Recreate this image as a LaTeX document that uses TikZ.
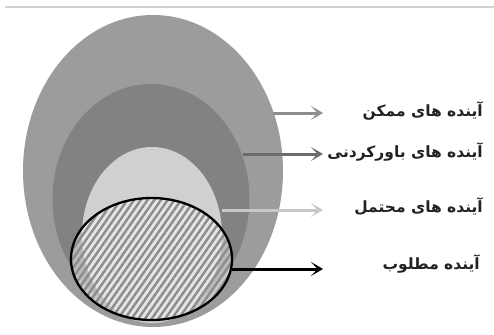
\documentclass[tikz,border=0pt]{standalone}
\usepackage{fontspec}
\newfontfamily\arabicfont[Script=Arabic]{DejaVu Sans}
\TeXXeTstate=1
\usetikzlibrary{shapes.geometric,arrows.meta,patterns.meta}
\definecolor{outerg}{HTML}{9C9C9C}
\definecolor{midg}{HTML}{828282}
\definecolor{lightg}{HTML}{D0D0D0}
\definecolor{stripeg}{HTML}{8C8C8C}
\definecolor{arrowone}{HTML}{8E8E8E}
\definecolor{arrowtwo}{HTML}{6C6C6C}
\definecolor{arrowthree}{HTML}{C8C8C8}
\definecolor{textg}{HTML}{222222}
\definecolor{ruleg}{HTML}{D2D2D2}
\begin{document}
\begin{tikzpicture}[x=1pt,y=-1pt,
  blob/.style={ellipse,inner sep=0pt,draw=none},
  lbl/.style={anchor=east,inner sep=0pt,font=\arabicfont\bfseries\fontsize{15.5}{18}\selectfont,text=textg},
  pointer/.style={line width=3pt,-{Stealth[length=12pt,width=14pt,inset=6.5pt]}}]
\useasboundingbox (0,0) rectangle (494,334);
\coordinate (r1) at (5,7);
\coordinate (r2) at (494,7);
\draw[ruleg,line width=1.2pt] (r1) -- (r2);
% ellipses
\node[blob,fill=outerg,minimum width=260pt,minimum height=312pt] (possible) at (153,171) {};
\node[blob,fill=midg,minimum width=197pt,minimum height=230pt] (plausible) at (151,199) {};
\node[blob,fill=lightg,minimum width=140pt,minimum height=176pt] (probable) at (152,235) {};
\node[blob,fill=white,fill opacity=0.45,minimum width=161pt,minimum height=122pt,
  postaction={fill opacity=0.65,pattern={Lines[angle=55,distance=5.5pt,line width=2.4pt]},pattern color=stripeg},
  postaction={draw=black,draw opacity=1,line width=2.3pt}] (preferable) at (151.5,259) {};
% labels
\node[lbl] (t1) at (483,111) {\beginR آینده های ممکن\endR};
\node[lbl] (t2) at (483,152) {\beginR آینده های باورکردنی\endR};
\node[lbl] (t3) at (483,207) {\beginR آینده های محتمل\endR};
\node[lbl] (t4) at (480,264) {\beginR آینده مطلوب\endR};
% arrows
\coordinate (a1s) at (273,113); \coordinate (a1e) at (323,113);
\coordinate (a2s) at (243,154); \coordinate (a2e) at (323,154);
\coordinate (a3s) at (222,210); \coordinate (a3e) at (323,210);
\coordinate (a4s) at (232,269); \coordinate (a4e) at (323,269);
\draw[pointer,arrowone] (a1s) -- (a1e);
\draw[pointer,arrowtwo] (a2s) -- (a2e);
\draw[pointer,arrowthree] (a3s) -- (a3e);
\draw[pointer,black] (a4s) -- (a4e);
\end{tikzpicture}
\end{document}
